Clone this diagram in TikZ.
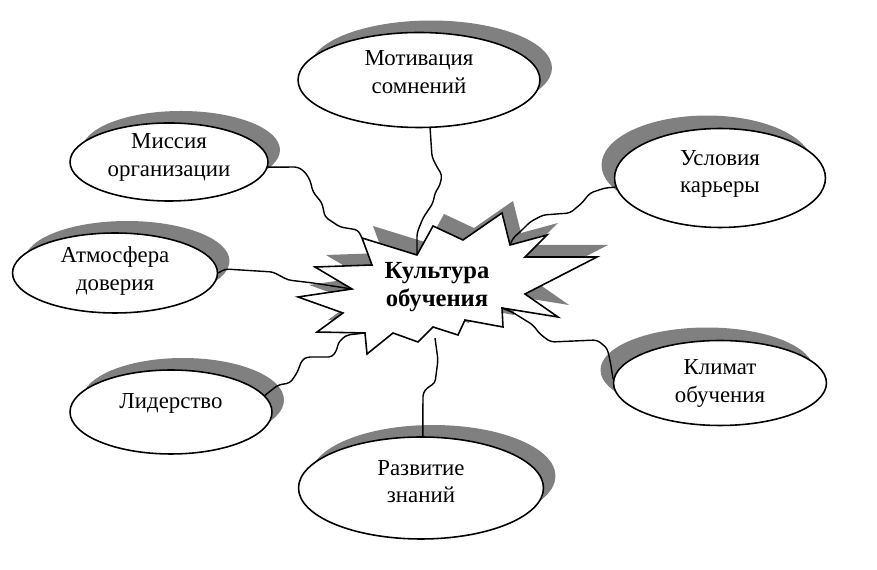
\documentclass[tikz,border=0pt]{standalone}
\usepackage{fontspec}
\setmainfont{Liberation Serif}
\usetikzlibrary{shapes.geometric,shadows}

% текст в эллипсе, чуть приподнятый
\newcommand{\lbl}[2][2.5pt]{\raisebox{#1}[\height][\depth]{%
  \begin{tabular}{@{}c@{}}#2\end{tabular}}}

\tikzset{
  idea/.style={ellipse, draw, line width=0.9pt, fill=white, inner sep=0pt,
    font=\fontsize{13}{15.7}\selectfont},
  shadowR/.style={drop shadow={shadow xshift=0.24cm, shadow yshift=0.24cm,
    fill=black!50, opacity=1}},
  shadowL/.style={drop shadow={shadow xshift=-0.26cm, shadow yshift=0.26cm,
    fill=black!50, opacity=1}},
  link/.style={line width=0.8pt, rounded corners=2pt}
}

\begin{document}
\begin{tikzpicture}[x=0.02cm, y=-0.02cm]
	\useasboundingbox (0,0) rectangle (877,570);

	% Вершины звезды
	\foreach \px/\py [count=\i] in {362/238,372/265,315/267,352/289,298/297,
	  343/313,317/332,365/333,367/354,393/333,418/342,433/327,
	  458/335,465/320,503/327,502/308,558/317,525/294,597/257,
	  525/257,547/235,510/245,502/213,463/240,433/226,417/255}
	  \coordinate (s\i) at (\px,\py);
	\coordinate (sbot) at (435,338);

	% Тень и сама звезда
	\fill[black!50, transform canvas={xshift=0.22cm, yshift=0.24cm}]
	  (s1) \foreach \i in {2,...,26} {-- (s\i)} -- cycle;
	\draw[line width=0.9pt, fill=white]
	  (s1) \foreach \i in {2,...,26} {-- (s\i)} -- cycle;
	\node[align=center, font=\bfseries\fontsize{14}{15.5}\selectfont] (kul) at (437,287)
	  {Культура\\обучения};

	% Эллипсы
	\node[idea, shadowR, minimum width=4.84cm, minimum height=1.90cm] (mot) at (419,80)
	  {\lbl[3.4pt]{Мотивация\\сомнений}};
	\node[idea, shadowR, minimum width=3.96cm, minimum height=1.48cm] (mis) at (169,162)
	  {\lbl[3pt]{Миссия\\организации}};
	\node[idea, shadowR, minimum width=4.10cm, minimum height=1.60cm] (atm) at (115,273)
	  {\lbl[1pt]{Атмосфера\\доверия}};
	\node[idea, shadowR, minimum width=4.04cm, minimum height=1.68cm] (lid) at (171,412)
	  {\lbl[5pt]{Лидерство}};
	\node[idea, shadowR, minimum width=4.90cm, minimum height=2.04cm] (raz) at (421,488)
	  {\lbl{Развитие\\знаний}};
	\node[idea, shadowL, minimum width=4.22cm, minimum height=1.98cm] (usl) at (720,178)
	  {\lbl{Условия\\карьеры}};
	\node[idea, shadowL, minimum width=4.26cm, minimum height=1.70cm] (kli) at (720,383)
	  {\lbl[0pt]{Климат\\обучения}};

	% Извилистые связи
	\draw[link] (mot.-77) -- (432,157) -- (437,167) -- (442,175) -- (440,185)
	  -- (435,193) -- (433,203) -- (423,218) -- (417,233) -- (s26);
	\draw[link] (mis.-3) -- (298,167) -- (305,172) -- (310,180) -- (313,192)
	  -- (322,203) -- (325,217) -- (340,227) -- (358,230) -- (s1);
	\draw[link] (atm.east) -- (225,269) -- (273,272) -- (288,280) -- (313,283) -- (s4);
	\draw[link] (lid.10) -- (278,385) -- (290,383) -- (297,373) -- (302,360)
	  -- (307,357) -- (332,357) -- (337,350) -- (338,343) -- (343,338)
	  -- (347,335) -- (s8);
	\draw[link] (raz.88) -- (423,393) -- (427,388) -- (435,383) -- (438,360) -- (sbot);
	\draw[link] (usl.185) -- (605,188) -- (590,193) -- (582,203) -- (570,213)
	  -- (543,215) -- (530,222) -- (520,232) -- (513,238) -- (s22);
	\draw[link] (kli.178) -- (610,360) -- (607,348) -- (597,340) -- (551,342)
	  -- (545,338) -- (539,333) -- (533,325) -- (512,312) -- (s16);
\end{tikzpicture}
\end{document}
